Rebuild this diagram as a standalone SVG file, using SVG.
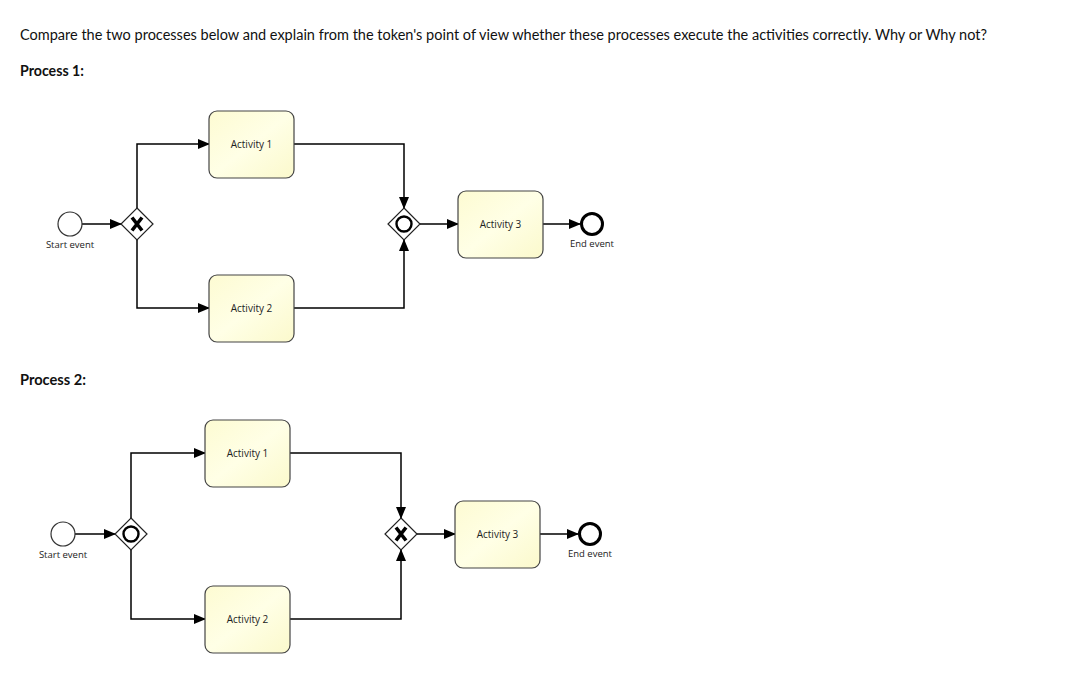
<svg xmlns="http://www.w3.org/2000/svg" width="1068" height="690" viewBox="0 0 1068 690">
<defs>
<linearGradient id="taskg" x1="0" y1="0" x2="1" y2="1">
<stop offset="0" stop-color="#fdfbd2"/>
<stop offset="0.5" stop-color="#ffffe6"/>
<stop offset="1" stop-color="#fbf9cc"/>
</linearGradient>
<marker id="arr" markerWidth="12" markerHeight="10" refX="11" refY="5" orient="auto" markerUnits="userSpaceOnUse">
<path d="M0,0 L12,5 L0,10 Z" fill="#000"/>
</marker>
<g id="xg">
<path d="M0,-16 L16,0 L0,16 L-16,0 Z" fill="#fff" stroke="#222" stroke-width="1.2"/>
<path d="M-5,-6.5 L5,6.5 M5,-6.5 L-5,6.5" stroke="#000" stroke-width="3.6"/>
</g>
<g id="og">
<path d="M0,-16 L16,0 L0,16 L-16,0 Z" fill="#fff" stroke="#222" stroke-width="1.2"/>
<circle r="7.5" fill="none" stroke="#000" stroke-width="2.4"/>
</g>
</defs>
<style>
.hdr{font-family:Lato,"Liberation Sans",sans-serif;font-size:14.5px;fill:#111}
.ttl{font-family:Lato,"Liberation Sans",sans-serif;font-size:15px;font-weight:bold;fill:#111}
.lbl{font-family:"Open Sans","Liberation Sans",sans-serif;font-size:9.5px;fill:#222;text-anchor:middle}
.tlbl{font-family:"Open Sans","Liberation Sans",sans-serif;font-size:10px;fill:#222;text-anchor:middle}
.task{fill:url(#taskg);stroke:#444;stroke-width:1.2}
.flow{fill:none;stroke:#000;stroke-width:1.5}
.start{fill:#fff;stroke:#333;stroke-width:1.2}
.end{fill:#fff;stroke:#000;stroke-width:3}
</style>
<rect width="1068" height="690" fill="#fff"/>
<text class="hdr" x="20" y="40" textLength="967" lengthAdjust="spacingAndGlyphs">Compare the two processes below and explain from the token's point of view whether these processes execute the activities correctly. Why or Why not?</text>
<text class="ttl" x="20" y="76" textLength="64" lengthAdjust="spacingAndGlyphs">Process 1:</text>
<text class="ttl" x="20" y="385" textLength="66" lengthAdjust="spacingAndGlyphs">Process 2:</text>

<g id="connectors">
<path class="flow" d="M82,224 L121,224" marker-end="url(#arr)"/>
<path class="flow" d="M137,208 L137,144 L209,144" marker-end="url(#arr)"/>
<path class="flow" d="M137,240 L137,308 L209,308" marker-end="url(#arr)"/>
<path class="flow" d="M294,144 L404,144 L404,208" marker-end="url(#arr)"/>
<path class="flow" d="M294,308 L404,308 L404,240" marker-end="url(#arr)"/>
<path class="flow" d="M420,224 L458,224" marker-end="url(#arr)"/>
<path class="flow" d="M543,224 L580,224" marker-end="url(#arr)"/>

<path class="flow" d="M75,534 L115,534" marker-end="url(#arr)"/>
<path class="flow" d="M131,518 L131,453 L205,453" marker-end="url(#arr)"/>
<path class="flow" d="M131,550 L131,619 L205,619" marker-end="url(#arr)"/>
<path class="flow" d="M290,453 L401,453 L401,518" marker-end="url(#arr)"/>
<path class="flow" d="M290,619 L401,619 L401,550" marker-end="url(#arr)"/>
<path class="flow" d="M417,534 L455,534" marker-end="url(#arr)"/>
<path class="flow" d="M540,534 L578,534" marker-end="url(#arr)"/>
</g>

<g id="p1-start"><circle class="start" cx="70" cy="224" r="12"/><text class="lbl" x="70" y="248">Start event</text></g>
<g id="p1-split"><use href="#xg" x="137" y="224"/></g>
<g id="p1-act1"><rect class="task" x="209" y="111" width="85" height="67" rx="8"/><text class="tlbl" x="251.5" y="148">Activity 1</text></g>
<g id="p1-act2"><rect class="task" x="209" y="275" width="85" height="67" rx="8"/><text class="tlbl" x="251.5" y="312">Activity 2</text></g>
<g id="p1-join"><use href="#og" x="404" y="224"/></g>
<g id="p1-act3"><rect class="task" x="458" y="191" width="85" height="67" rx="8"/><text class="tlbl" x="500.5" y="228">Activity 3</text></g>
<g id="p1-end"><circle class="end" cx="592" cy="224" r="10.5"/><text class="lbl" x="592" y="247">End event</text></g>

<g id="p2-start"><circle class="start" cx="63" cy="534" r="12"/><text class="lbl" x="63" y="558">Start event</text></g>
<g id="p2-split"><use href="#og" x="131" y="534"/></g>
<g id="p2-act1"><rect class="task" x="205" y="420" width="85" height="67" rx="8"/><text class="tlbl" x="247.5" y="457">Activity 1</text></g>
<g id="p2-act2"><rect class="task" x="205" y="586" width="85" height="67" rx="8"/><text class="tlbl" x="247.5" y="623">Activity 2</text></g>
<g id="p2-join"><use href="#xg" x="401" y="534"/></g>
<g id="p2-act3"><rect class="task" x="455" y="501" width="85" height="67" rx="8"/><text class="tlbl" x="497.5" y="538">Activity 3</text></g>
<g id="p2-end"><circle class="end" cx="590" cy="534" r="10.5"/><text class="lbl" x="590" y="557">End event</text></g>
</svg>
